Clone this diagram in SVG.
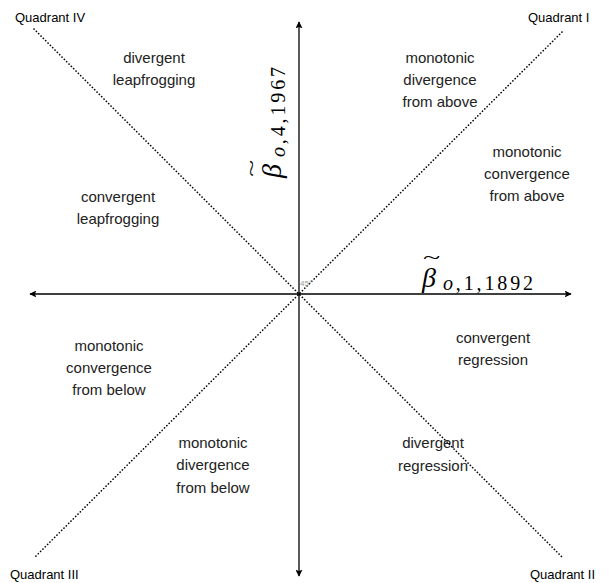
<svg xmlns="http://www.w3.org/2000/svg" width="613" height="583" viewBox="0 0 613 583">
<style>
.lbl{font-family:"Liberation Sans",Arial,Helvetica,sans-serif;font-size:15px;fill:#222;text-anchor:middle}
.q{font-family:"Liberation Sans",Arial,Helvetica,sans-serif;font-size:13px;fill:#000}
.axis{stroke:#000;stroke-width:1.3;fill:none}
.diag{stroke:#000;stroke-width:1.6;fill:none;stroke-dasharray:0.1 3.2;stroke-linecap:round}
.math{font-family:"Liberation Serif","DejaVu Serif",serif;fill:#000}
</style>
<defs>
<marker id="ah" viewBox="0 0 10 10" refX="9" refY="5" markerWidth="7" markerHeight="7" orient="auto" markerUnits="userSpaceOnUse">
<path d="M0,0 L10,5 L0,10 L2,5 Z" fill="#000"/>
</marker>
</defs>
<rect width="613" height="583" fill="#fff"/>
<g id="connectors">
<line class="axis" x1="299" y1="294" x2="571" y2="294" marker-end="url(#ah)"/>
<line class="axis" x1="299" y1="294" x2="30" y2="294" marker-end="url(#ah)"/>
<line class="axis" x1="299" y1="294" x2="299" y2="22" marker-end="url(#ah)"/>
<line class="axis" x1="299" y1="294" x2="299" y2="576" marker-end="url(#ah)"/>
<line class="diag" x1="34" y1="29" x2="563" y2="558"/>
<line class="diag" x1="562" y1="32" x2="35" y2="557"/>
</g>
<g id="angle"><text x="300" y="286" font-family="Liberation Sans,Arial,sans-serif" font-size="8" fill="#999">45°</text></g>
<g id="quadrant-I"><text class="q" x="528" y="22">Quadrant I</text></g>
<g id="quadrant-II"><text class="q" x="530" y="579">Quadrant II</text></g>
<g id="quadrant-III"><text class="q" x="10" y="579">Quadrant III</text></g>
<g id="quadrant-IV"><text class="q" x="15" y="22">Quadrant IV</text></g>
<g id="r1"><text class="lbl" x="154" y="63">divergent</text><text class="lbl" x="154" y="85">leapfrogging</text></g>
<g id="r2"><text class="lbl" x="440" y="63">monotonic</text><text class="lbl" x="440" y="85">divergence</text><text class="lbl" x="440" y="107">from above</text></g>
<g id="r3"><text class="lbl" x="527" y="157">monotonic</text><text class="lbl" x="527" y="179">convergence</text><text class="lbl" x="527" y="201">from above</text></g>
<g id="r4"><text class="lbl" x="118" y="202">convergent</text><text class="lbl" x="118" y="224">leapfrogging</text></g>
<g id="r5"><text class="lbl" x="109" y="351">monotonic</text><text class="lbl" x="109" y="373">convergence</text><text class="lbl" x="109" y="395">from below</text></g>
<g id="r6"><text class="lbl" x="493" y="343">convergent</text><text class="lbl" x="493" y="365">regression</text></g>
<g id="r7"><text class="lbl" x="213" y="448">monotonic</text><text class="lbl" x="213" y="470">divergence</text><text class="lbl" x="213" y="493">from below</text></g>
<g id="r8"><text class="lbl" x="433" y="448">divergent</text><text class="lbl" x="433" y="471">regression</text></g>
<g id="xlabel">
<text class="math" x="422" y="287" font-size="28" font-style="italic">β</text>
<text class="math" x="0" y="0" font-size="22" transform="translate(423,264) scale(1.45,0.9)">~</text>
<text class="math" x="443" y="290" font-size="20" textLength="90" lengthAdjust="spacing"><tspan font-style="italic">o</tspan>,1,1892</text>
</g>
<g id="ylabel" transform="translate(281,178) rotate(-90)">
<text class="math" x="0" y="0" font-size="28" font-style="italic">β</text>
<text class="math" x="0" y="0" font-size="22" transform="translate(1,-23) scale(1.45,0.9)">~</text>
<text class="math" x="21" y="4" font-size="20" textLength="90" lengthAdjust="spacing"><tspan font-style="italic">o</tspan>,4,1967</text>
</g>
</svg>
